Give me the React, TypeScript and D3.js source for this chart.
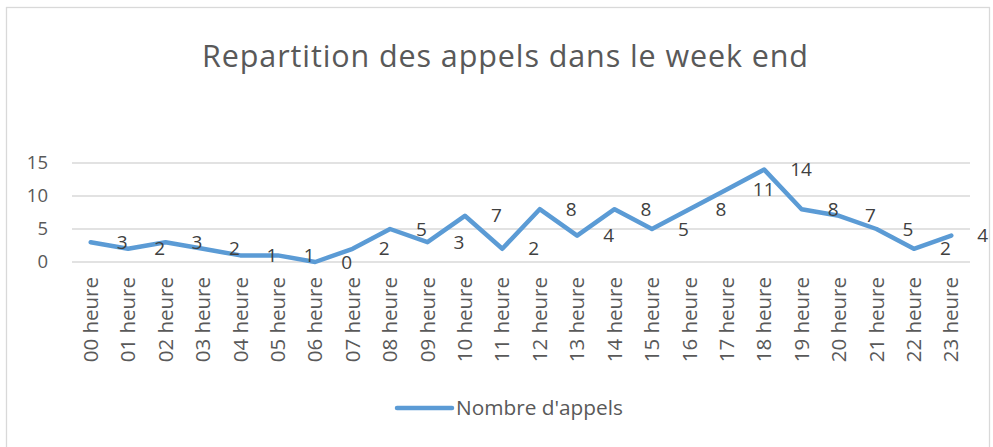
import React from "react";
import * as d3 from "d3";

const hours = [
  "00 heure", "01 heure", "02 heure", "03 heure", "04 heure", "05 heure",
  "06 heure", "07 heure", "08 heure", "09 heure", "10 heure", "11 heure",
  "12 heure", "13 heure", "14 heure", "15 heure", "16 heure", "17 heure",
  "18 heure", "19 heure", "20 heure", "21 heure", "22 heure", "23 heure",
];
const appels = [3, 2, 3, 2, 1, 1, 0, 2, 5, 3, 7, 2, 8, 4, 8, 5, 8, 11, 14, 8, 7, 5, 2, 4];
const yTicks = [0, 5, 10, 15];
const title = "Repartition des appels dans le week end";
const seriesName = "Nombre d'appels";

const W = 993;
const H = 447;
const FONT = "'Open Sans', Lato, sans-serif";
const TEXT = "#595959";
const LINE = "#5B9BD5";

export default function App() {
  const x = d3.scaleBand<string>().domain(hours).range([72, 970]);
  const y = d3.scaleLinear().domain([0, 15]).range([262, 163]);
  const px = (i: number) => (x(hours[i]) as number) + x.bandwidth() / 2;
  const line = d3
    .line<number>()
    .x((_, i) => px(i))
    .y((d) => y(d));

  return (
    <div style={{ position: "absolute", left: 0, top: 0 }}>
      <svg width={W} height={H} style={{ display: "block" }}>
        <rect x={0} y={0} width={W} height={H} fill="#fff" />
        <rect x={6.5} y={7.5} width={983} height={445} fill="#fff" stroke="#D9D9D9" strokeWidth={1.3} />
        <text x={505.5} y={67} textAnchor="middle" fontFamily={FONT} fontSize={30.5} letterSpacing={0.9} fill={TEXT}>
          {title}
        </text>
        {yTicks.map((t) => (
          <g key={t}>
            <line x1={72} x2={970} y1={y(t)} y2={y(t)} stroke="#D9D9D9" strokeWidth={1.3} />
            <text x={48} y={y(t)} dy="0.35em" textAnchor="end" fontFamily={FONT} fontSize={18.5} fill={TEXT}>
              {t}
            </text>
          </g>
        ))}
        {hours.map((h, i) => (
          <text
            key={h}
            transform={`translate(${px(i)},${277}) rotate(-90)`}
            dy="0.35em"
            textAnchor="end"
            fontFamily={FONT}
            fontSize={20.5}
            fill={TEXT}
          >
            {h}
          </text>
        ))}
        <path d={line(appels) || ""} fill="none" stroke={LINE} strokeWidth={4.5} strokeLinejoin="round" strokeLinecap="round" />
        {appels.map((v, i) => (
          <text key={i} x={px(i) + 26} y={y(v)} dy="0.35em" textAnchor="start" fontFamily={FONT} fontSize={19} fill="#404040">
            {v}
          </text>
        ))}
        <line x1={397} x2={452} y1={408} y2={408} stroke={LINE} strokeWidth={4.5} strokeLinecap="round" />
        <text x={456} y={408} dy="0.35em" fontFamily={FONT} fontSize={20.8} fill={TEXT}>
          {seriesName}
        </text>
      </svg>
    </div>
  );
}
